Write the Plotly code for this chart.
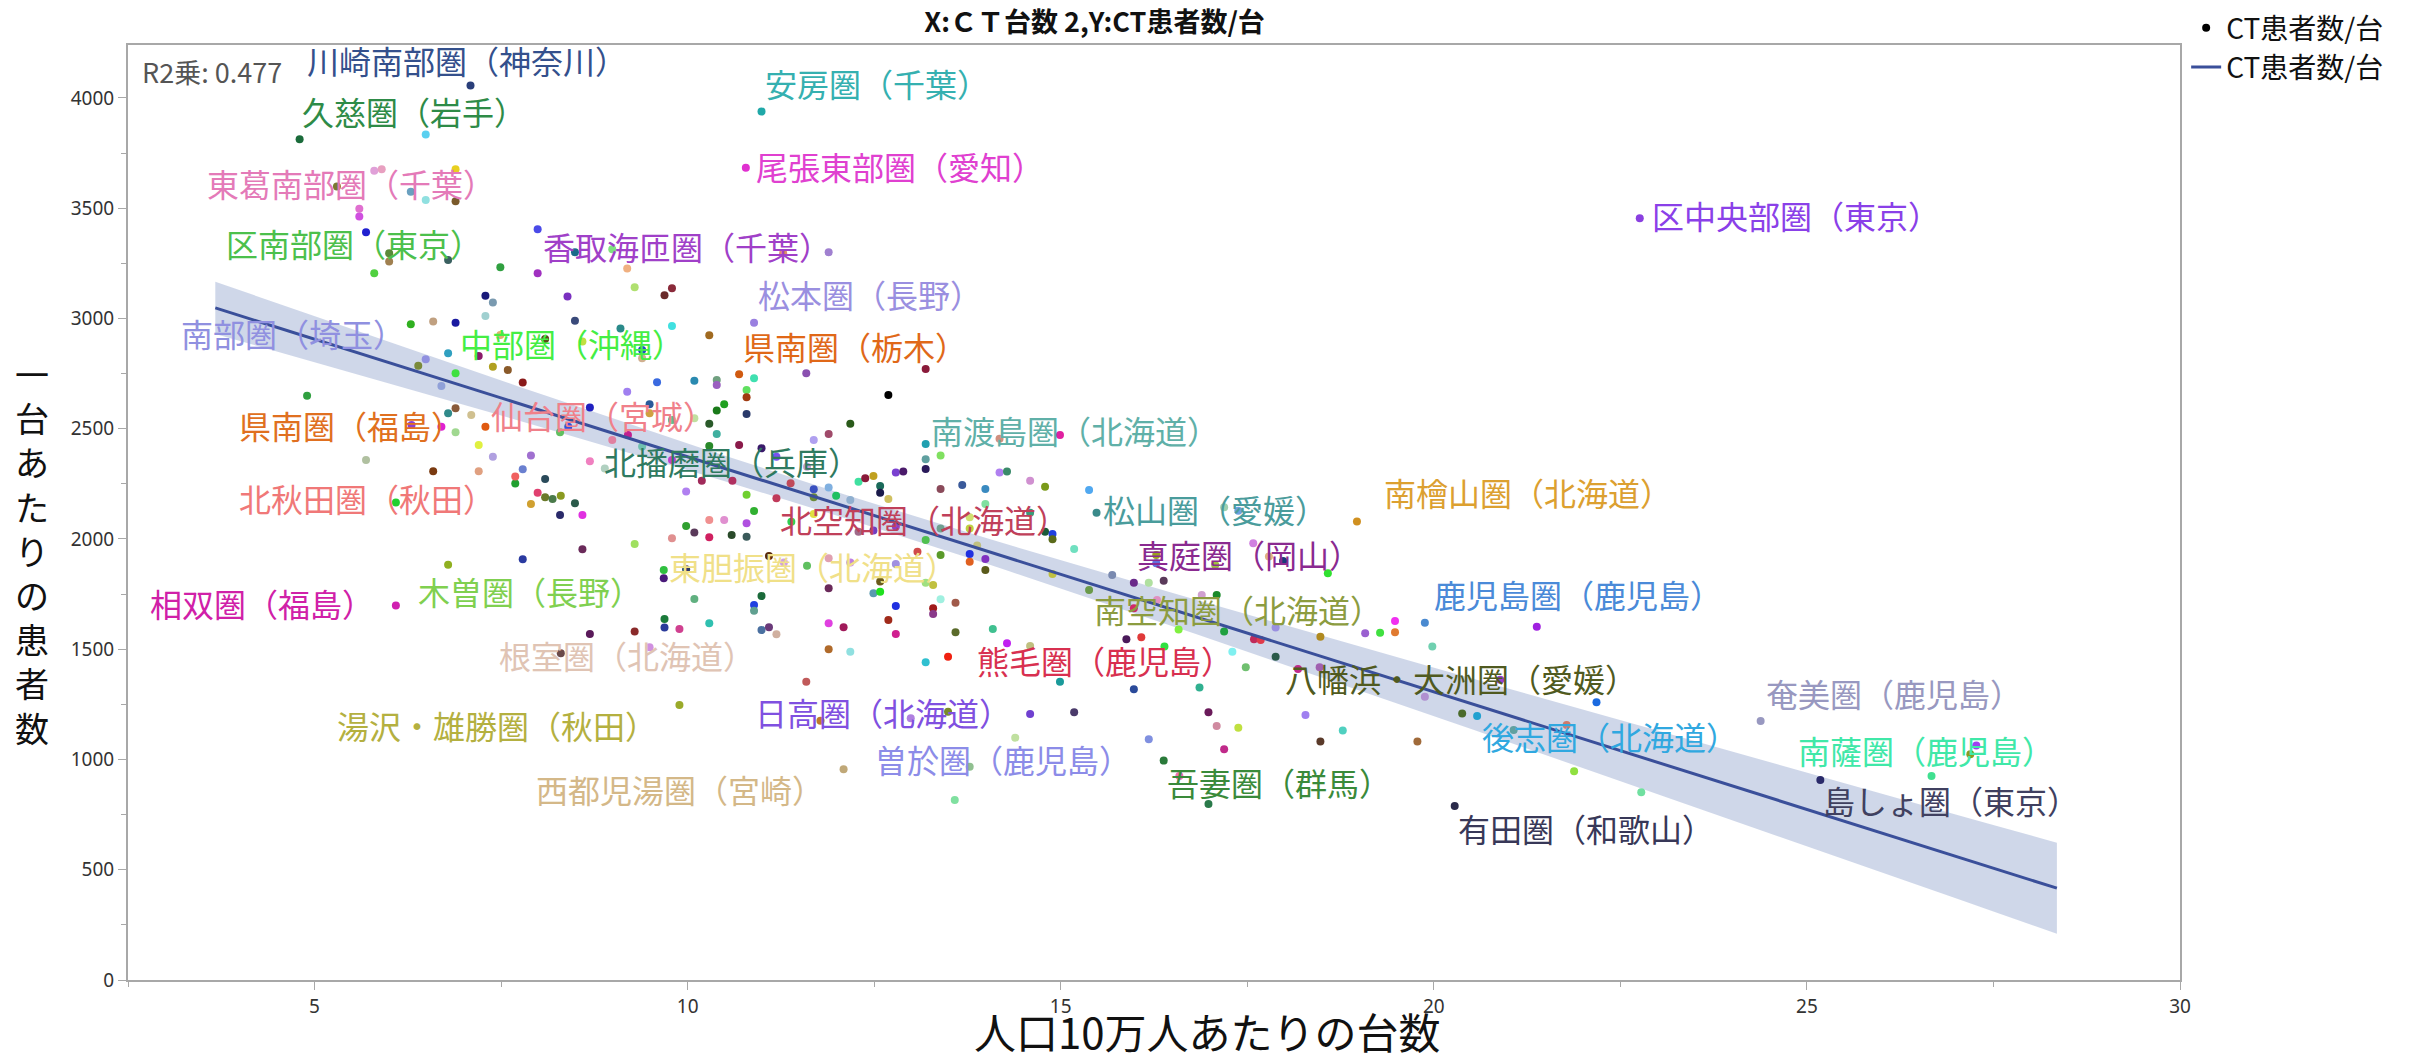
"""
CT台数と CT患者数/台 の散布図 (二次医療圏別) を Plotly で再現する。
"""

import numpy as np
import plotly.graph_objects as go

# --- data -----------------------------------------------------------------

# labelled areas (name, x = CT台数/人口10万人, y = CT患者数/台)
label_names = [
    "川崎南部圏（神奈川）", "久慈圏（岩手）", "安房圏（千葉）", "尾張東部圏（愛知）",
    "東葛南部圏（千葉）", "区中央部圏（東京）", "区南部圏（東京）", "香取海匝圏（千葉）",
    "松本圏（長野）", "南部圏（埼玉）", "中部圏（沖縄）", "県南圏（栃木）",
    "仙台圏（宮城）", "県南圏（福島）", "北播磨圏（兵庫）", "南渡島圏（北海道）",
    "北空知圏（北海道）", "北秋田圏（秋田）", "松山圏（愛媛）", "南檜山圏（北海道）",
    "真庭圏（岡山）", "東胆振圏（北海道）", "相双圏（福島）", "木曽圏（長野）",
    "南空知圏（北海道）", "鹿児島圏（鹿児島）", "根室圏（北海道）", "熊毛圏（鹿児島）",
    "八幡浜・大洲圏（愛媛）", "奄美圏（鹿児島）", "湯沢・雄勝圏（秋田）", "日高圏（北海道）",
    "後志圏（北海道）", "南薩圏（鹿児島）", "曽於圏（鹿児島）", "吾妻圏（群馬）",
    "西都児湯圏（宮崎）", "島しょ圏（東京）", "有田圏（和歌山）",
]
label_x = [
    7.09, 4.80, 10.99, 10.78, 5.90, 22.76, 5.80, 7.99, 10.89, 6.49, 6.89, 10.69,
    8.99, 7.29, 8.89, 13.19, 11.19, 7.69, 15.48, 18.97, 16.38, 9.68, 6.09, 6.79,
    15.38, 19.88, 8.69, 13.49, 17.88, 24.38, 9.89, 14.59, 20.58, 26.67, 12.99, 16.38,
    12.09, 25.18, 20.28,
]
label_y = [
    4056, 3813, 3938, 3683, 3676, 3454, 3205, 3205, 2981, 2815, 2751, 2747,
    2449, 2509, 2320, 2431, 2185, 2283, 2119, 2079, 1811, 1859, 1698, 1883,
    1769, 1620, 1569, 1466, 1466, 1175, 1247, 1206, 1197, 925, 1187, 995,
    956, 907, 789,
]
label_point_colors = [
    "#2a3f7a", "#1a6b3a", "#20a8a8", "#e030d0", "#e8a0c0", "#8a40e0", "#50d040", "#a030c0",
    "#9a80e0", "#9090e0", "#40e040", "#d05a10", "#e080a0", "#e05a10", "#b0d0c0", "#20a0b0",
    "#c03a5a", "#f06060", "#3a8a8a", "#d09020", "#5a3a5a", "#30c040", "#d020b0", "#90b020",
    "#6a9a4a", "#4a8ad0", "#5a1a5a", "#f02010", "#2a5a4a", "#9898c0", "#9aaa2a", "#7040d0",
    "#20a0d0", "#40e090", "#b080e0", "#2a7a3a", "#c0a878", "#2a2a6a", "#2a2a4a",
]
label_text_colors = [
    "#34508c", "#2e8b47", "#35b0b0", "#e040d0", "#e47ab8", "#8a40e8", "#4cc04c", "#a040c8",
    "#9a8fe0", "#9090e0", "#44ee44", "#e06818", "#f0808a", "#e07020", "#2f7a60", "#60b0a8",
    "#c0405a", "#f07878", "#4a9c9c", "#dca030", "#8a2a90", "#f0e088", "#d020a8", "#80d050",
    "#8c9c40", "#4a8ad8", "#e0c4b4", "#d83050", "#505a20", "#9898c0", "#b4b040", "#8050e0",
    "#30a8e0", "#40e8a8", "#8c8ce8", "#3a8a3a", "#d4b888", "#404060", "#383858",
]

# other areas (no label)
other_x = [
    6.49, 5.80, 6.89, 5.30, 6.29, 6.49, 6.89, 5.60, 5.60, 5.69, 7.99, 8.49, 6.00, 6.00,
    6.79, 7.49, 7.29, 7.39, 8.39, 7.29, 8.49, 6.29, 6.59, 6.89, 7.49, 8.09, 8.59, 6.79,
    7.20, 6.39, 7.39, 7.59, 6.70, 7.79, 4.90, 6.89, 6.79, 7.10, 8.69, 6.30, 6.70, 6.89,
    8.29, 8.40, 7.20, 5.69, 7.39, 7.90, 8.69, 6.59, 7.20, 7.79, 7.69, 8.09, 7.99, 8.09,
    8.19, 8.30, 8.49, 7.90, 6.09, 8.29, 8.59, 8.59, 7.79, 8.30, 8.99, 11.28, 11.89, 9.19,
    9.29, 9.79, 9.69, 9.10, 9.79, 10.29, 9.39, 9.39, 13.19, 10.89, 11.59, 9.59, 10.09, 10.39,
    10.39, 9.19, 10.79, 10.79, 12.69, 9.49, 10.49, 10.39, 10.79, 12.18, 9.49, 9.79, 10.09, 10.29,
    10.39, 9.20, 9.39, 10.29, 10.69, 10.99, 11.69, 11.89, 11.19, 9.79, 11.60, 13.39, 13.19, 13.19,
    12.79, 12.89, 14.18, 14.28, 14.99, 14.18, 10.19, 10.60, 11.38, 9.98, 10.79, 11.69, 11.89, 11.99,
    11.69, 12.18, 12.29, 12.38, 12.49, 12.58, 12.58, 12.69, 13.39, 13.68, 13.99, 13.99, 14.59, 14.79,
    15.38, 10.89, 14.59, 11.69, 11.39, 10.29, 10.49, 10.79, 9.98, 10.09, 10.29, 10.59, 10.79, 9.79,
    9.29, 12.29, 12.49, 12.79, 13.39, 13.78, 13.78, 14.79, 14.89, 14.89, 13.19, 13.88, 15.18, 13.08,
    13.78, 13.78, 13.99, 13.99, 13.39, 11.09, 11.89, 12.18, 12.79, 11.29, 11.60, 9.68, 9.98, 12.58,
    13.19, 13.29, 14.89, 11.89, 12.49, 12.58, 10.09, 10.99, 10.89, 10.89, 12.79, 13.39, 13.59, 13.29,
    13.29, 9.69, 9.69, 9.89, 10.29, 9.29, 10.99, 11.09, 11.19, 11.89, 12.09, 12.69, 12.79, 13.59,
    14.09, 14.28, 14.59, 9.49, 11.89, 12.18, 13.19, 11.59, 14.99, 15.18, 11.78, 13.49, 14.39, 13.78,
    13.58, 16.18, 16.59, 15.98, 16.86, 17.19, 17.38, 17.58, 17.79, 17.98, 18.58, 16.28, 16.28, 17.07,
    15.69, 15.98, 16.18, 16.89, 17.09, 16.29, 15.98, 16.58, 17.19, 17.88, 18.48, 19.08, 19.28, 19.48,
    19.48, 21.38, 15.88, 16.08, 17.59, 17.68, 16.39, 17.30, 17.48, 19.98, 18.18, 18.47, 19.88, 20.89,
    20.38, 21.78, 21.07, 16.98, 17.09, 17.38, 18.28, 18.78, 18.48, 19.78, 17.19, 21.88, 22.18, 22.78,
    16.98, 27.27, 27.19,
]
other_y = [
    3834, 3670, 3676, 3598, 3575, 3537, 3531, 3497, 3462, 3391, 3404, 3300, 3296, 3258,
    3265, 3232, 3103, 3072, 3099, 3011, 2989, 2974, 2986, 2981, 2925, 2907, 2895, 2842,
    2830, 2785, 2781, 2766, 2694, 2709, 2650, 2593, 2570, 2562, 2596, 2517, 2509, 2484,
    2484, 2509, 2426, 2358, 2373, 2378, 2352, 2307, 2307, 2316, 2252, 2272, 2210, 2189,
    2181, 2196, 2162, 2159, 2165, 2109, 2109, 1953, 1908, 1482, 3314, 3296, 3300, 3227,
    3141, 3137, 3105, 2954, 2966, 2924, 2857, 2819, 2771, 2729, 2751, 2711, 2717, 2721,
    2698, 2668, 2676, 2643, 2653, 2611, 2611, 2582, 2567, 2522, 2570, 2540, 2547, 2522,
    2476, 2472, 2419, 2422, 2426, 2411, 2449, 2476, 2373, 2358, 2328, 2378, 2361, 2317,
    2301, 2306, 2301, 2306, 2472, 2454, 2264, 2264, 2253, 2215, 2200, 2225, 2233, 2196,
    2189, 2177, 2260, 2275, 2286, 2240, 2210, 2181, 2227, 2245, 2227, 2159, 2264, 2237,
    2222, 2127, 2119, 2113, 2078, 2086, 2086, 2071, 2059, 2029, 2008, 2018, 2010, 2003,
    1977, 2033, 2038, 2056, 2048, 2048, 2098, 2033, 2023, 1999, 1995, 1970, 1955, 1942,
    1932, 1897, 1909, 1859, 1927, 1923, 1912, 1893, 1887, 1893, 1878, 1822, 1863, 1807,
    1802, 1791, 1841, 1776, 1754, 1761, 1728, 1741, 1701, 1675, 1696, 1727, 1711, 1686,
    1660, 1637, 1598, 1592, 1618, 1580, 1587, 1600, 1568, 1618, 1600, 1633, 1569, 1577,
    1592, 1527, 1515, 1509, 1500, 1489, 1441, 1353, 1353, 1214, 1176, 1217, 1099, 967,
    816, 1092, 925, 1318, 1326, 2144, 2128, 1980, 1920, 1900, 1844, 1927, 1890, 1882,
    1837, 1802, 1802, 1746, 1746, 1723, 1686, 1590, 1580, 1598, 1557, 1572, 1575, 1577,
    1628, 1602, 1545, 1554, 1545, 1542, 1512, 1489, 1418, 1512, 1410, 1418, 1285, 1361,
    1209, 1156, 1134, 1214, 1152, 1144, 1202, 1131, 1081, 1081, 1046, 947, 1259, 851,
    798, 1063, 1024,
]
other_colors = [
    "#5ad0f0", "#e0a0d8", "#e8d020", "#7a7a30", "#6aa0c0", "#90e0e0", "#7a5a2a", "#e070d0",
    "#d050e0", "#2020d0", "#4a4ae8", "#1a6a8a", "#5a8a3a", "#a08050", "#3a6060", "#30a040",
    "#1a1a7a", "#7a9ab0", "#7a30c0", "#a0d0d0", "#3a4a7a", "#30b020", "#c0a080", "#1a1aa0",
    "#e0b070", "#5a4a1a", "#c0e040", "#30a0c0", "#8a1a6a", "#7a8a3a", "#b0a020", "#8a5a2a",
    "#90a0d8", "#8a1a1a", "#30a040", "#8a5a3a", "#308a8a", "#d0c090", "#2020c0", "#9040d0",
    "#e020d0", "#a0d890", "#60c060", "#3050e0", "#e0f040", "#b0c0a0", "#b0a0e0", "#a070d0",
    "#f080c0", "#7a3a10", "#e0a080", "#6a80d0", "#20a030", "#2a4a5a", "#e04070", "#6a7a2a",
    "#4a7a4a", "#8a9a20", "#2a5a4a", "#d0a030", "#20d030", "#2a2a6a", "#e030e0", "#6a2a5a",
    "#2a3aa0", "#6a4a4a", "#80e080", "#e08a6a", "#a080d0", "#f0b080", "#b0e070", "#8a2a3a",
    "#6a2a2a", "#2a8a8a", "#40e0e0", "#a06a20", "#2050c0", "#d0b090", "#8a1a3a", "#40e0b0",
    "#8a50b0", "#3a6ae0", "#2a8ab0", "#70a080", "#9a60c0", "#a080f0", "#60e060", "#a03a10",
    "#000000", "#2a5a9a", "#20a020", "#1a7a1a", "#2a3a6a", "#2a5a1a", "#d0a040", "#60c090",
    "#c0e0a0", "#2a5a2a", "#40b0a0", "#c02090", "#70c0b0", "#2a8a2a", "#8a1a4a", "#3a1a6a",
    "#b0a0f0", "#a04a6a", "#7a50f0", "#c040d0", "#c0a0d0", "#80e060", "#60a0a0", "#2a1a5a",
    "#7a40d0", "#4a1a6a", "#b080f0", "#3a8a6a", "#e020a0", "#d09080", "#a02a5a", "#b03060",
    "#c04a5a", "#b080f0", "#70d030", "#3a50c0", "#80b0e0", "#20c060", "#6a8a3a", "#90b0d0",
    "#40e0a0", "#8a1a3a", "#c0a020", "#1a6a5a", "#1a1a4a", "#d0c060", "#8a4a5a", "#3a5a9a",
    "#3a8ac0", "#80e0a0", "#d090d0", "#7a9a1a", "#50a8f0", "#30b030", "#3a9a7a", "#e0e040",
    "#30d050", "#f09090", "#e090d0", "#b050e0", "#30a030", "#5a3a5a", "#d02060", "#2a4a2a",
    "#3a5a5a", "#e09090", "#a0e060", "#a06a8a", "#7040c0", "#9040c0", "#70a090", "#c0d040",
    "#d0e070", "#1a5a3a", "#2040e0", "#5a6a1a", "#50c050", "#c0c080", "#70e0c0", "#d04a4a",
    "#2030e0", "#e06020", "#8030c0", "#5a5a1a", "#5a9a2a", "#5a2a0a", "#e0a0b0", "#c080e0",
    "#a090e0", "#d0a0e0", "#60c060", "#4a1a7a", "#2a3a6a", "#6a5a1a", "#a0e080", "#c0c040",
    "#c0c040", "#6a2a5a", "#5a9ab0", "#20e020", "#60b080", "#1a6a3a", "#2040e0", "#60a090",
    "#2030e0", "#a0f0e0", "#a05a4a", "#a01a1a", "#8a3a8a", "#1a7a3a", "#2a3a9a", "#d04090",
    "#30c0b0", "#8a2a2a", "#4a70a0", "#6a3a7a", "#d0b0a0", "#e040e0", "#a01a5a", "#a02a1a",
    "#d02090", "#5a6a2a", "#40c090", "#c020f0", "#c0c080", "#d090e0", "#b06a2a", "#90e0e0",
    "#30c0d0", "#c05a5a", "#1a9a9a", "#4a3a6a", "#c07a2a", "#7a8a2a", "#c0e0a0", "#90c090",
    "#80e0a0", "#8090e0", "#f070b0", "#2a4a9a", "#30b090", "#a0d0b0", "#70a0e0", "#d080e0",
    "#e0b080", "#1a3a7a", "#30e030", "#9aa020", "#6070e0", "#a0c040", "#7a8ab0", "#6a2a8a",
    "#b0e0a0", "#d0a0d0", "#1a8a2a", "#e090c0", "#d02a6a", "#80f040", "#20a040", "#9a90e0",
    "#b08a20", "#9a60d0", "#40e040", "#e07a30", "#f030f0", "#a020e0", "#4a1a5a", "#e03a3a",
    "#c02a5a", "#e03a4a", "#30e040", "#80f0f0", "#70c070", "#70d0b0", "#c02a8a", "#a060b0",
    "#b090d0", "#9a40d0", "#4a6a2a", "#d07a6a", "#60a0a0", "#6a1a5a", "#d08aa0", "#c0e040",
    "#a080f0", "#50d0c0", "#5a3a2a", "#a06a3a", "#c02a8a", "#90e040", "#1a6ae0", "#70e0a0",
    "#2a7a4a", "#a040f0", "#8a9a20",
]

x_ticks = [5, 10, 15, 20, 25, 30]
y_ticks = [0, 500, 1000, 1500, 2000, 2500, 3000, 3500, 4000]
fit_x_range = [3.67, 28.35]
r2_text = "R2乗: 0.477"
series_name = "CT患者数/台"

# --- style ----------------------------------------------------------------

JP_FONT = "Noto Sans CJK JP, Noto Sans, sans-serif"
AXIS_GRAY = "#a8a8a8"
LINE_BLUE = "#3a4f9a"
BAND_FILL = "rgba(70, 100, 170, 0.26)"
LABEL_SIZE = 32
LABEL_LIFT = 2  # glyph centre sits a bit lower than the box centre

# label offsets from its point in px (dx right, dy down)
label_offsets = [
    (-4, -24), (114, -26), (115, -27), (154, 0), (-31, 16), (156, -1), (-20, -28), (149, -25),
    (116, -27), (-133, -24), (116, -28), (116, -26), (-9, -23), (-134, 0), (127, -5), (149, -12),
    (148, 23), (-148, 23), (118, -2), (171, -28), (85, -25), (149, -2), (-134, -1), (82, 28),
    (149, 21), (153, -27), (37, 23), (157, 5), (185, 23), (133, -26), (-182, 22), (-147, 0),
    (133, 22), (-6, -24), (92, 43), (115, 23), (-164, 22), (131, 22), (131, 24),
]

# --- regression with 95% confidence band ----------------------------------

all_x = np.array(label_x + other_x, dtype=float)
all_y = np.array(label_y + other_y, dtype=float)
n = len(all_x)
slope, intercept = np.polyfit(all_x, all_y, 1)
resid = all_y - (intercept + slope * all_x)
s_err = np.sqrt((resid ** 2).sum() / (n - 2))
x_mean = all_x.mean()
sxx = ((all_x - x_mean) ** 2).sum()

fit_xs = np.linspace(fit_x_range[0], fit_x_range[1], 80)
fit_ys = intercept + slope * fit_xs
half_width = 1.97 * s_err * np.sqrt(1.0 / n + (fit_xs - x_mean) ** 2 / sxx)

# --- figure ---------------------------------------------------------------

fig = go.Figure()

fig.add_trace(
    go.Scatter(
        x=fit_xs, y=fit_ys + half_width, mode="lines",
        line=dict(width=0), showlegend=False, hoverinfo="skip",
    )
)
fig.add_trace(
    go.Scatter(
        x=fit_xs, y=fit_ys - half_width, mode="lines",
        line=dict(width=0), fill="tonexty", fillcolor=BAND_FILL,
        showlegend=False, hoverinfo="skip",
    )
)

fig.add_trace(
    go.Scatter(
        x=other_x + label_x,
        y=other_y + label_y,
        mode="markers",
        marker=dict(color=other_colors + label_point_colors, size=8, line=dict(width=0)),
        showlegend=False,
    )
)

# legend entry for the points (black dot as in the original)
fig.add_trace(
    go.Scatter(
        x=[None], y=[None], mode="markers",
        marker=dict(color="black", size=8), name=series_name,
    )
)

fig.add_trace(
    go.Scatter(
        x=fit_xs, y=fit_ys, mode="lines",
        line=dict(color=LINE_BLUE, width=3), name=series_name,
    )
)

annotations = []
for name, lx, ly, col, (dx, dy) in zip(
    label_names, label_x, label_y, label_text_colors, label_offsets
):
    annotations.append(
        dict(
            x=lx, y=ly, xref="x", yref="y", text=name, showarrow=False,
            xshift=dx, yshift=-dy + LABEL_LIFT, xanchor="center", yanchor="middle",
            font=dict(family=JP_FONT, size=LABEL_SIZE, color=col),
        )
    )

annotations.append(
    dict(
        x=0.006, y=0.972, xref="paper", yref="paper", text=r2_text,
        showarrow=False, xanchor="left", yanchor="middle",
        font=dict(family=JP_FONT, size=27, color="#555555"),
    )
)

# axis titles
annotations.append(
    dict(
        x=0.526, y=0, xref="paper", yref="paper", yshift=-50,
        text="人口10万人あたりの台数", showarrow=False,
        xanchor="center", yanchor="middle",
        font=dict(family=JP_FONT, size=42, color="#111111"),
    )
)
annotations.append(
    dict(
        x=-0.047, y=0.459, xref="paper", yref="paper",
        text="<br>".join("一台あたりの患者数"), showarrow=False,
        xanchor="center", yanchor="middle",
        font=dict(family=JP_FONT, size=34, color="#111111"),
    )
)

fig.update_layout(
    width=2427,
    height=1056,
    autosize=False,
    template="plotly_white",
    plot_bgcolor="white",
    paper_bgcolor="white",
    margin=dict(l=128, r=247, t=45, b=76, autoexpand=False),
    title=dict(
        text="<b>X:ＣＴ台数 2,Y:CT患者数/台</b>",
        x=0.451, xanchor="center", y=0.979, yanchor="middle",
        font=dict(family=JP_FONT, size=27, color="#111111"),
    ),
    legend=dict(
        x=1.003, y=1.045, xanchor="left", yanchor="top",
        traceorder="normal",
        font=dict(family=JP_FONT, size=28, color="#111111"),
        bgcolor="rgba(0,0,0,0)", itemwidth=30, tracegroupgap=0,
    ),
    annotations=annotations,
    showlegend=True,
)

fig.update_xaxes(
    range=[2.5, 30], tickvals=x_ticks, showgrid=False, zeroline=False,
    showline=True, linecolor=AXIS_GRAY, linewidth=2, mirror=True,
    ticks="outside", ticklen=8, tickcolor=AXIS_GRAY,
    minor=dict(dtick=2.5, tick0=0, ticks="outside", ticklen=5, tickcolor=AXIS_GRAY),
    tickfont=dict(family="Noto Sans, sans-serif", size=19, color="#333333"),
)
fig.update_yaxes(
    range=[0, 4240], tickvals=y_ticks, showgrid=False, zeroline=False,
    showline=True, linecolor=AXIS_GRAY, linewidth=2, mirror=True,
    ticks="outside", ticklen=8, tickcolor=AXIS_GRAY,
    minor=dict(dtick=250, tick0=0, ticks="outside", ticklen=5, tickcolor=AXIS_GRAY),
    tickfont=dict(family="Noto Sans, sans-serif", size=19, color="#333333"),
)

fig.write_html(
    "out.html",
    config={"displayModeBar": False},
    post_script="document.body.style.margin='0';document.body.style.overflow='hidden';",
)
